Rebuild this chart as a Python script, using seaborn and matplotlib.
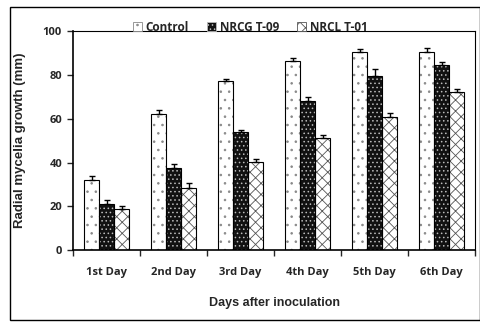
import numpy as np
import pandas as pd
import matplotlib
matplotlib.use("Agg")
import matplotlib.pyplot as plt
from matplotlib.patches import Rectangle
import seaborn as sns

# Data
days = ['1st Day', '2nd Day', '3rd Day', '4th Day', '5th Day', '6th Day']
treatments = ['Control', 'NRCG T-09', 'NRCL T-01']
control = [32, 62, 77, 86.3, 90.5, 90.5]
nrcg = [21, 37.7, 54, 68.3, 79.5, 84.5]
nrcl = [18.6, 28.5, 40.2, 51.2, 60.6, 72.1]
control_err = [2, 2, 1.3, 1.5, 1.5, 2]
nrcg_err = [2, 1.5, 1, 1.5, 3, 1.5]
nrcl_err = [1.5, 2, 1.5, 1.5, 2, 1.5]

df = pd.DataFrame({
    'Day': days * 3,
    'Treatment': np.repeat(treatments, len(days)),
    'Growth': control + nrcg + nrcl,
    'Err': control_err + nrcg_err + nrcl_err,
})

sns.set_style('white')
plt.rcParams['hatch.linewidth'] = 0.6

fig = plt.figure(figsize=(4.81, 3.24), dpi=100)
ax = fig.add_axes([0.152, 0.228, 0.836, 0.676])

faces = ['white', '#111111', 'white']
hatch_cols = ['#888888', '#bbbbbb', '#555555']
hatches = ['..', '....', 'xxx']

sns.barplot(data=df, x='Day', y='Growth', hue='Treatment', order=days,
            hue_order=treatments, errorbar=None, width=0.67, ax=ax,
            palette=faces, edgecolor='black', linewidth=0.8, legend=False)

for i, t in enumerate(treatments):
    sub = df[df['Treatment'] == t]
    bars = ax.patches[i * len(days):(i + 1) * len(days)]
    xs = []
    for b in list(bars):
        b.set_hatch(hatches[i])
        b.set_edgecolor(hatch_cols[i])
        b.set_linewidth(0)
        ax.add_patch(Rectangle((b.get_x(), 0), b.get_width(), b.get_height(),
                               fill=False, edgecolor='black', linewidth=0.8, zorder=3))
        xs.append(b.get_x() + b.get_width() / 2)
    ax.errorbar(xs, sub['Growth'].values, yerr=[np.zeros(len(days)), sub['Err'].values],
                fmt='none', ecolor='black', elinewidth=1, capsize=2.5, capthick=1, zorder=4)

ax.set_ylim(0, 100)
ax.set_xlim(-0.5, 5.5)
ax.set_yticks(range(0, 101, 20))
ax.set_xticks(range(len(days)))
ax.set_xticks(np.arange(-0.5, 6, 1), minor=True)
ax.tick_params(axis='x', which='major', length=0, pad=12)
ax.tick_params(axis='x', which='minor', length=4, width=1, direction='out', bottom=True)
ax.tick_params(axis='y', length=4, width=1, direction='out', left=True, pad=4)
for lab in ax.get_xticklabels() + ax.get_yticklabels():
    lab.set_fontfamily('Open Sans')
    lab.set_fontweight('bold')
    lab.set_fontsize(8)

for s in ax.spines.values():
    s.set_visible(True)
    s.set_color('black')
    s.set_linewidth(0.8)
ax.spines['left'].set_linewidth(1.2)
ax.spines['bottom'].set_linewidth(1.2)

ax.set_xlabel('Days after inoculation', fontfamily='Liberation Sans', fontweight='bold',
              fontsize=9, labelpad=14)
ax.set_ylabel('Radial mycelia growth (mm)', fontfamily='Liberation Sans', fontweight='bold',
              fontsize=9.5, labelpad=12)

handles = [Rectangle((0, 0), 1, 1, facecolor=faces[i], edgecolor=hatch_cols[i],
                     hatch=hatches[i], linewidth=0.6) for i in range(3)]
fig.legend(handles, treatments, loc='center', bbox_to_anchor=(0.52, 0.915), ncol=3,
           frameon=False, handlelength=0.8, handleheight=0.8, handletextpad=0.3,
           columnspacing=1.5, prop={'family': 'Open Sans', 'weight': 'bold', 'size': 8.5})

# outer border
fig.patches.append(Rectangle((10 / 481, 4 / 324), 470 / 481, 313 / 324,
                             transform=fig.transFigure, fill=False,
                             edgecolor='black', linewidth=1))

fig.savefig('out.png', dpi=100)
